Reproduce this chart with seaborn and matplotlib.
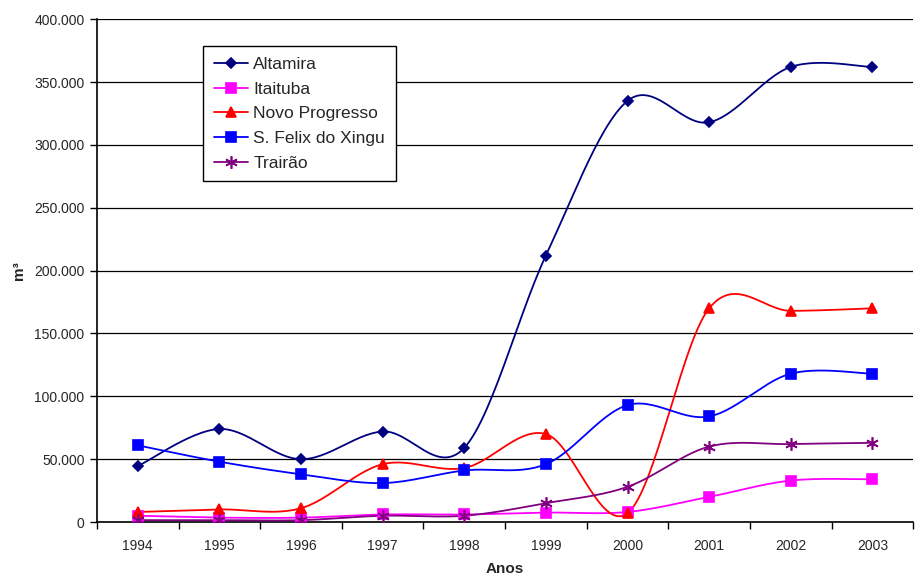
import numpy as np
import pandas as pd
import seaborn as sns
import matplotlib.pyplot as plt
from matplotlib.lines import Line2D
from matplotlib.ticker import FuncFormatter

# Dados (m³ por ano)
anos = ["1994", "1995", "1996", "1997", "1998", "1999", "2000", "2001", "2002", "2003"]
altamira = [44500, 74000, 50000, 72000, 59000, 212000, 335000, 318000, 362000, 362000]
itaituba = [5000, 3500, 3500, 6000, 6000, 7500, 8000, 20000, 33000, 34000]
novo_progresso = [8000, 10000, 11000, 46000, 43000, 70000, 7000, 170000, 168000, 170000]
s_felix = [61000, 48000, 38000, 31000, 41000, 46000, 93000, 84000, 118000, 118000]
trairao = [1500, 1500, 1500, 5000, 5000, 15000, 28000, 60000, 62000, 63000]

series = ["Altamira", "Itaituba", "Novo Progresso", "S. Felix do Xingu", "Trairão"]
valores = [altamira, itaituba, novo_progresso, s_felix, trairao]
cores = ["#000080", "#FF00FF", "#FF0000", "#0000FF", "#800080"]
marcadores = ["D", "s", "^", "s", (6, 2, 0)]
tamanhos = [5, 6.5, 7, 7.5, 9]


def suavizar(x, y, n=30):
    # curva suavizada estilo Excel (Bezier com tensão 1/6)
    x = np.asarray(x, float)
    y = np.asarray(y, float)
    xs, ys = [], []
    for i in range(len(x) - 1):
        p0 = np.array([x[max(i - 1, 0)], y[max(i - 1, 0)]])
        p1 = np.array([x[i], y[i]])
        p2 = np.array([x[i + 1], y[i + 1]])
        p3 = np.array([x[min(i + 2, len(x) - 1)], y[min(i + 2, len(x) - 1)]])
        c1 = p1 + (p2 - p0) / 6
        c2 = p2 - (p3 - p1) / 6
        t = np.linspace(0, 1, n)[:, None]
        pts = (1 - t) ** 3 * p1 + 3 * (1 - t) ** 2 * t * c1 + 3 * (1 - t) * t ** 2 * c2 + t ** 3 * p2
        xs.extend(pts[:, 0])
        ys.extend(pts[:, 1])
    return np.array(xs), np.array(ys)


sns.set_style("white")
plt.rcParams["font.family"] = ["Liberation Sans", "DejaVu Sans"]

fig = plt.figure(figsize=(9.15, 5.81), dpi=100)
ax = fig.add_axes([0.106, 0.1015, 0.892, 0.8655])

pos = np.arange(len(anos))
handles = []
for nome, vals, cor, mk, ms in zip(series, valores, cores, marcadores, tamanhos):
    sx, sy = suavizar(pos, vals)
    sns.lineplot(x=sx, y=sy, ax=ax, color=cor, linewidth=1.3, sort=False, estimator=None, zorder=3)
    ax.plot(pos, vals, linestyle="none", marker=mk, markersize=ms, color=cor,
            markeredgecolor=cor, markeredgewidth=1.2, zorder=4)
    handles.append(Line2D([0], [0], color=cor, linewidth=1.3, marker=mk, markersize=ms,
                          markeredgecolor=cor, markeredgewidth=1.2, label=nome))

ax.set_xlim(-0.5, len(anos) - 0.5)
ax.set_ylim(0, 400000)
ax.set_yticks(np.arange(0, 400001, 50000))
ax.yaxis.set_major_formatter(FuncFormatter(lambda v, p: f"{int(v):,}".replace(",", ".")))
ax.yaxis.grid(True, color="black", linewidth=0.9)
ax.set_axisbelow(True)

# categorias: marcas entre anos, rótulos no centro
ax.set_xticks(np.arange(-0.5, len(anos) - 0.4, 1))
ax.set_xticklabels([])
ax.set_xticks(pos, minor=True)
ax.set_xticklabels(anos, minor=True)
ax.tick_params(axis="x", which="major", direction="out", length=5, width=1, color="black", bottom=True)
ax.tick_params(axis="x", which="minor", length=0, labelsize=10, pad=12)
ax.tick_params(axis="y", direction="out", length=5, width=1, color="black", left=True, labelsize=10, pad=4)

for s in ["top", "right"]:
    ax.spines[s].set_visible(False)
for s in ["left", "bottom"]:
    ax.spines[s].set_color("black")
    ax.spines[s].set_linewidth(1.2)

ax.set_xlabel("Anos", fontsize=11, fontweight="bold", labelpad=7)
ax.set_ylabel("m³", fontsize=11, fontweight="bold", labelpad=6)

leg = ax.legend(handles=handles, loc="upper left", bbox_to_anchor=(0.13, 0.946),
                borderaxespad=0, fontsize=12.5, frameon=True, fancybox=False, edgecolor="black",
                handlelength=2.0, borderpad=0.6, labelspacing=0.55, handletextpad=0.3)
leg.get_frame().set_linewidth(1.0)
leg.get_frame().set_alpha(1)
leg.set_zorder(5)

fig.savefig("out.png", dpi=100)
